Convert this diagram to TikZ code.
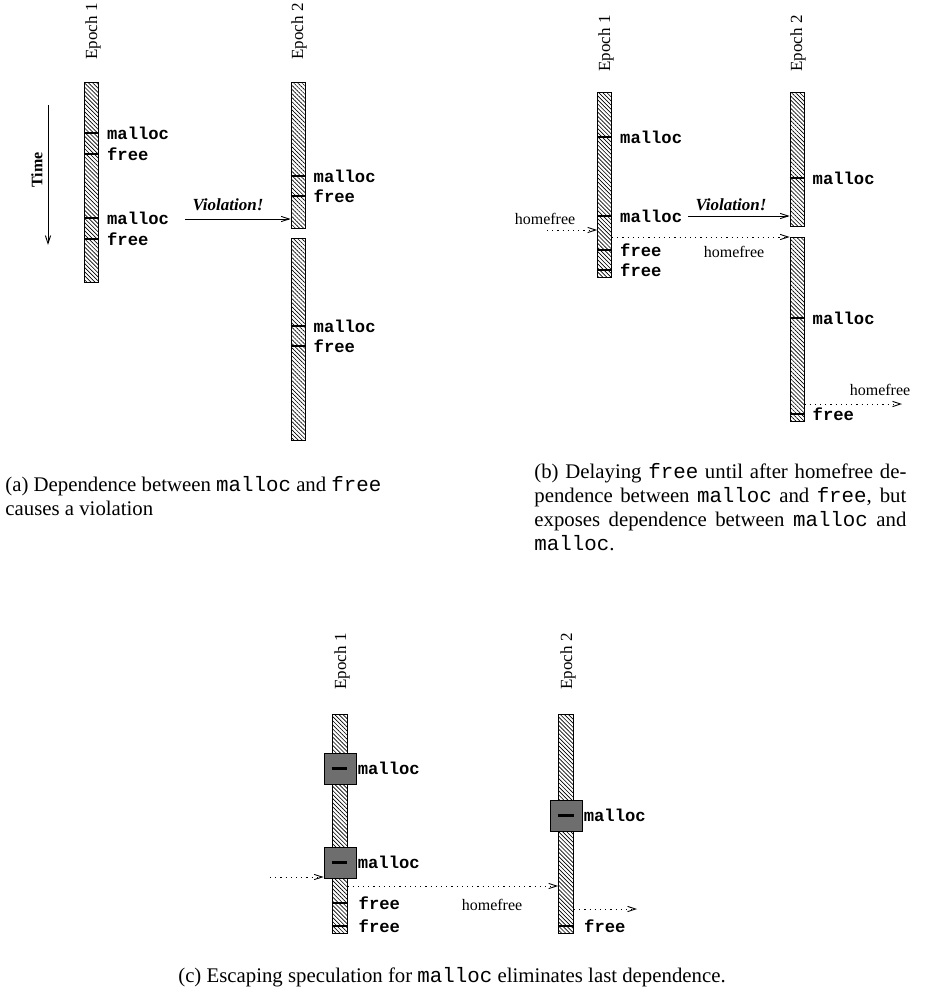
\documentclass[tikz,border=0pt]{standalone}
\usepackage{fontspec}
\setmainfont{Liberation Serif}
\setmonofont{Liberation Mono}
\usetikzlibrary{arrows.meta,positioning,patterns.meta}
\definecolor{boxgray}{RGB}{110,110,110}
\tikzset{
  bar/.style={draw,line width=0.4pt,anchor=north,minimum width=7pt,inner sep=0pt,
              pattern={Lines[angle=-45,distance=1.45pt,line width=0.33pt]}},
  tick/.style={line width=1.3pt},
  fn/.style={anchor=west,inner sep=0pt,font=\fontsize{8.6}{10}\selectfont\ttfamily\bfseries},
  epo/.style={rotate=90,anchor=west,inner sep=0pt,font=\fontsize{8.5}{10}\selectfont},
  hf/.style={inner sep=0pt,font=\fontsize{8}{10}\selectfont},
  viol/.style={inner sep=0pt,font=\fontsize{8.5}{10}\selectfont\bfseries\itshape},
  nyil/.style={line width=0.45pt,-{Straight Barb[length=4pt,width=2.6pt,line width=0.45pt]}},
  pontoz/.style={nyil,dash pattern=on 0.6pt off 2pt},
  gbox/.style={draw,fill=boxgray,line width=0.4pt,minimum width=16pt,minimum height=15.5pt,inner sep=0pt},
  capt/.style={inner sep=0pt,font=\fontsize{10.4}{12}\selectfont},
}

\begin{document}
\begin{tikzpicture}[x=0.5pt,y=-0.5pt]
  \useasboundingbox (0,0) rectangle (925,995);
  % (a) malloc and free
  \node[epo] (ea1) at (93,60) {Epoch 1};
  \node[epo] (ea2) at (299,60) {Epoch 2};
  \node[bar,minimum height=100pt] (a1) at (91.5,82) {};
  \node[bar,minimum height=73pt] (a2) at (298,82) {};
  \node[bar,minimum height=101pt] (a3) at (298,238) {};
  \foreach \y/\t in {133/malloc,154/free,218/malloc,239/free}
    \draw[tick] (a1.west |- 0,\y) -- (a1.east |- 0,\y) node[fn,xshift=3.5pt] (la1-\y) {\t};
  \foreach \y/\t in {176/malloc,196/free}
    \draw[tick] (a2.west |- 0,\y) -- (a2.east |- 0,\y) node[fn,xshift=3.5pt] (la2-\y) {\t};
  \foreach \y/\t in {326/malloc,346/free}
    \draw[tick] (a3.west |- 0,\y) -- (a3.east |- 0,\y) node[fn,xshift=3.5pt] (la3-\y) {\t};
  \coordinate (t0) at (48,105); \coordinate (t1) at (48,245);
  \draw[nyil] (t0) -- (t1);
  \node[rotate=90,inner sep=0pt,font=\fontsize{8}{10}\selectfont\bfseries] (time) at (37,170) {Time};
  \coordinate (va) at (185,219);
  \draw[nyil] (va) -- (a2.west |- va);
  \node[viol] (vla) at (228,205) {Violation!};
  \node[capt,anchor=north west,align=left] (capa) at (5,476)
    {(a) Dependence between \texttt{malloc} and \texttt{free}\\causes a violation};

  % (b) free after homefree
  \node[epo] (eb1) at (606,72) {Epoch 1};
  \node[epo] (eb2) at (798,72) {Epoch 2};
  \node[bar,minimum height=92.5pt] (b1) at (604.5,92) {};
  \node[bar,minimum height=67pt] (b2) at (797,92) {};
  \node[bar,minimum height=92pt] (b3) at (797,237) {};
  \foreach \y/\t in {137/malloc,216/malloc,250/free,270/free}
    \draw[tick] (b1.west |- 0,\y) -- (b1.east |- 0,\y) node[fn,xshift=3.5pt] (lb1-\y) {\t};
  \draw[tick] (b2.west |- 0,178) -- (b2.east |- 0,178) node[fn,xshift=3.5pt] (lb2) {malloc};
  \foreach \y/\t in {318/malloc,414/free}
    \draw[tick] (b3.west |- 0,\y) -- (b3.east |- 0,\y) node[fn,xshift=3.5pt] (lb3-\y) {\t};
  \node[hf] (hb0) at (545,219) {homefree};
  \coordinate (hb0s) at (547,230);
  \draw[pontoz] (hb0s) -- (b1.west |- hb0s);
  \coordinate (vb) at (688,216);
  \draw[nyil] (vb) -- (b2.west |- vb);
  \node[viol] (vlb) at (731,205) {Violation!};
  \draw[pontoz] (b1.east |- b3.north) -- (b3.north west);
  \node[hf] (hb1) at (734,252) {homefree};
  \coordinate (hb2e) at (902,404);
  \draw[pontoz] (b3.east |- hb2e) -- (hb2e);
  \node[hf] (hb2) at (880,390) {homefree};
  \node[capt,anchor=north west,align=left] (capb) at (534,463)
    {\makebox[186pt][s]{(b) Delaying \texttt{free} until after homefree de-}\\
     \makebox[186pt][s]{pendence between \texttt{malloc} and \texttt{free}, but}\\
     \makebox[186pt][s]{exposes dependence between \texttt{malloc} and}\\
     \texttt{malloc}.};

  % (c) escaping speculation
  \node[epo] (ec1) at (342,690) {Epoch 1};
  \node[epo] (ec2) at (568,690) {Epoch 2};
  \node[bar,minimum width=7.5pt,minimum height=109.5pt] (c1) at (339.5,714) {};
  \node[bar,minimum width=7.5pt,minimum height=109.5pt] (c2) at (566,714) {};
  \node[gbox] (m1) at (340,768.5) {};
  \node[gbox] (m2) at (340,862.5) {};
  \node[gbox] (m3) at (566,815.5) {};
  \foreach \m in {m1,m2}
    \draw[tick,line width=1.7pt] (c1.west |- \m) -- (c1.east |- \m);
  \draw[tick,line width=1.7pt] (c2.west |- m3) -- (c2.east |- m3);
  \node[fn,xshift=0.5pt] (lm1) at (m1.east) {malloc};
  \node[fn,xshift=0.5pt] (lm2) at (m2.east) {malloc};
  \node[fn,xshift=0.5pt] (lm3) at (m3.east) {malloc};
  \foreach \y in {903,926}
    \draw[tick] (c1.west |- 0,\y) -- (c1.east |- 0,\y) node[fn,xshift=5pt] (lc1-\y) {free};
  \draw[tick] (c2.west |- 0,926) -- (c2.east |- 0,926) node[fn,xshift=4.5pt] (lc2) {free};
  \coordinate (hc0) at (270,877);
  \draw[pontoz] (hc0) -- (m2.west |- hc0);
  \draw[pontoz] (c1.east |- 0,886) -- (c2.west |- 0,886);
  \node[hf] (hc1) at (492,905) {homefree};
  \coordinate (hc2e) at (637,909);
  \draw[pontoz] (c2.east |- hc2e) -- (hc2e);
  \node[capt] (capc) at (452,977)
    {(c) Escaping speculation for \texttt{malloc} eliminates last dependence.};
\end{tikzpicture}
\end{document}
